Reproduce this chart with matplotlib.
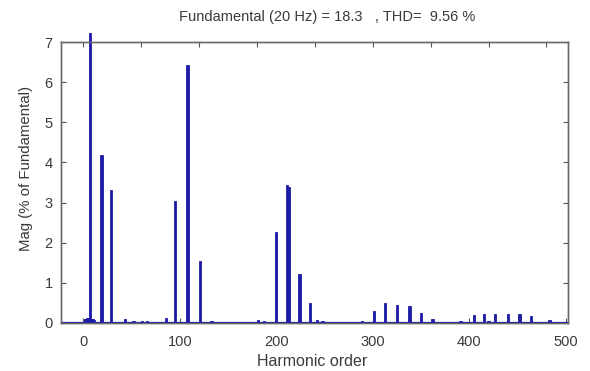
import matplotlib
matplotlib.use("Agg")
import matplotlib.pyplot as plt

# Main harmonic components (harmonic order, magnitude in % of fundamental)
main_orders = [7, 19, 29, 95, 108, 121, 200, 211, 213, 224, 235,
               301, 313, 325, 338, 350, 362,
               405, 415, 427, 440, 452, 464, 483]
main_mags = [7.24, 4.19, 3.31, 3.04, 6.43, 1.55, 2.26, 3.44, 3.38, 1.21, 0.50,
             0.29, 0.49, 0.45, 0.41, 0.25, 0.08,
             0.20, 0.22, 0.22, 0.22, 0.22, 0.16, 0.06]

# Small residual components
small_orders = [2, 3, 4, 5, 6, 9, 10, 11, 43, 52, 61, 66, 86, 133,
                181, 187, 242, 248, 289, 391, 420]
small_mags = [0.08, 0.10, 0.12, 0.11, 0.12, 0.10, 0.08, 0.06, 0.08, 0.03, 0.03, 0.04,
              0.12, 0.04, 0.06, 0.04, 0.06, 0.03, 0.03, 0.03, 0.05]

x_ticks = [0, 100, 200, 300, 400, 500]
y_ticks = [0, 1, 2, 3, 4, 5, 6, 7]
top_ticks = [0, 60, 120, 180, 240, 300, 360, 420, 480]

title = "Fundamental (20 Hz) = 18.3   , THD=  9.56 %"
xlabel = "Harmonic order"
ylabel = "Mag (% of Fundamental)"

bar_color = "#1c1ca6"
text_color = "#3a3a3a"

plt.rcParams['font.family'] = ['Liberation Sans', 'DejaVu Sans']

fig = plt.figure(figsize=(5.9, 3.71), dpi=100)
ax = fig.add_axes([61 / 590, 1 - 322.7 / 371, (567.7 - 61) / 590, (322.7 - 42.3) / 371])

ax.bar(main_orders, main_mags, width=2.4, color=bar_color, edgecolor=bar_color,
       linewidth=0.6, clip_on=False, zorder=3)
ax.bar(small_orders, small_mags, width=2.4, color=bar_color, edgecolor=bar_color,
       linewidth=0.6, zorder=3)
ax.axhline(0, color=bar_color, lw=1.6, zorder=4)

ax.set_xlim(-23, 502)
ax.set_ylim(0, 7)
ax.set_xticks(x_ticks)
ax.set_yticks(y_ticks)
ax.tick_params(direction='in', length=3.5, width=0.8, colors='#555555',
               labelcolor=text_color, labelsize=10.5, right=True, pad=6)
ax.tick_params(axis='x', pad=9)

top = ax.twiny()
top.set_xlim(ax.get_xlim())
top.set_xticks(top_ticks)
top.set_xticklabels([])
top.tick_params(direction='in', length=3.5, width=0.8, colors='#555555')

for a in (ax, top):
    for s in a.spines.values():
        s.set_color('#6a6a6a')
        s.set_linewidth(1.0)

ax.set_xlabel(xlabel, fontsize=11.5, color=text_color)
ax.xaxis.set_label_coords((312 - 61) / (567.7 - 61), -(361 - 322.7) / (322.7 - 42.3))
ax.xaxis.label.set_va('center')
ax.set_ylabel(ylabel, fontsize=10.8, color=text_color)
ax.yaxis.set_label_coords(-(61 - 26.5) / (567.7 - 61), (322.7 - 168) / (322.7 - 42.3))
ax.yaxis.label.set_va('center')
fig.text(327 / 590, 1 - 17 / 371, title, ha='center', va='center',
         fontsize=10.5, color=text_color)

fig.savefig("out.png", dpi=100)
